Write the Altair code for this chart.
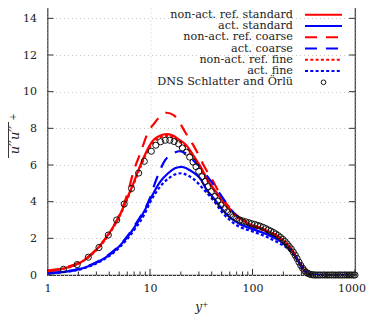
import altair as alt
import pandas as pd

# ---------------- data ----------------
x_ticks = [1, 10, 100, 1000]
x_minor = [2, 3, 4, 5, 6, 7, 8, 9, 20, 30, 40, 50, 60, 70, 80, 90, 200, 300, 400, 500, 600, 700, 800, 900]
y_ticks = [0, 2, 4, 6, 8, 10, 12, 14]

legend_names = ["non-act. ref. standard", "act. standard", "non-act. ref. coarse",
                "act. coarse", "non-act. ref. fine", "act. fine", "DNS Schlatter and Örlü"]

rs_x = [1, 1.5, 2, 2.5, 3.2, 4, 5, 6, 7, 8, 9, 10, 11, 12.5, 14.5, 16.5, 19, 22.7, 26, 30.6, 36, 44.5, 55, 70, 85, 100, 130, 160, 200, 240, 280, 320, 360, 400, 450, 1000]
rs_y = [0.18, 0.38, 0.62, 0.98, 1.55, 2.28, 3.2, 4.2, 5.1, 5.95, 6.6, 7.1, 7.4, 7.6, 7.68, 7.62, 7.4, 7.07, 6.6, 5.98, 5.25, 4.5, 3.85, 3.25, 2.92, 2.7, 2.48, 2.25, 1.88, 1.38, 0.78, 0.25, 0.05, 0.01, 0, 0]

rf_x = rs_x
rf_y = [0.18, 0.37, 0.61, 0.96, 1.52, 2.24, 3.15, 4.13, 5.02, 5.85, 6.5, 6.98, 7.28, 7.5, 7.58, 7.52, 7.3, 6.97, 6.5, 5.9, 5.18, 4.43, 3.78, 3.18, 2.86, 2.65, 2.43, 2.2, 1.84, 1.35, 0.76, 0.24, 0.05, 0.01, 0, 0]

rc_x = [1, 1.5, 2, 2.5, 3.2, 4, 5, 6, 7, 8, 9.6, 11.1, 12.5, 14.5, 17, 19.5, 22, 26, 29.5, 34, 40, 52, 64, 75, 90, 100, 130, 160, 200, 240, 280, 320, 360, 400, 450, 1000]
rc_y = [0.25, 0.42, 0.66, 1.0, 1.58, 2.3, 3.25, 4.4, 5.75, 6.6, 7.8, 8.3, 8.65, 8.85, 8.72, 8.3, 7.8, 7.15, 6.6, 5.9, 5.25, 4.1, 3.5, 3.1, 2.85, 2.74, 2.5, 2.26, 1.9, 1.4, 0.8, 0.26, 0.05, 0.01, 0, 0]

bs_x = [1, 1.5, 2, 2.5, 3.13, 4.2, 5.7, 7.1, 8.9, 10, 12.5, 15, 17.5, 20.3, 23, 26.4, 30.6, 36, 41, 50, 60, 75, 100, 130, 160, 200, 240, 280, 320, 360, 400, 450, 1000]
bs_y = [0.09, 0.18, 0.31, 0.48, 0.72, 1.18, 1.9, 2.63, 3.53, 4.1, 5.07, 5.55, 5.82, 5.9, 5.8, 5.6, 5.3, 4.62, 4.25, 3.62, 3.15, 2.78, 2.5, 2.28, 2.05, 1.72, 1.3, 0.75, 0.25, 0.05, 0.01, 0, 0]

bc_x = [1, 1.5, 2, 2.5, 3.13, 4.2, 5.7, 7.1, 8.9, 10, 11, 12.5, 14, 16.5, 19.5, 22, 24, 27, 30.6, 36, 44, 52, 62, 75, 100, 130, 160, 200, 240, 280, 320, 360, 400, 450, 1000]
bc_y = [0.1, 0.19, 0.33, 0.5, 0.75, 1.22, 1.95, 2.7, 3.6, 4.2, 4.9, 5.7, 6.25, 6.6, 6.75, 6.65, 6.5, 6.2, 5.9, 5.4, 4.75, 4.15, 3.55, 3.05, 2.58, 2.32, 2.1, 1.76, 1.32, 0.76, 0.25, 0.05, 0.01, 0, 0]

bf_x = [1, 1.5, 2, 2.5, 3.13, 4.2, 5.7, 7.1, 8.9, 10, 12.5, 15, 17.5, 20.3, 23, 26.4, 33, 44.5, 50, 60, 75, 100, 137, 184, 220, 260, 300, 340, 400, 450, 1000]
bf_y = [0.08, 0.17, 0.28, 0.45, 0.68, 1.12, 1.82, 2.5, 3.35, 3.95, 4.8, 5.25, 5.48, 5.55, 5.45, 5.25, 4.7, 3.85, 3.45, 3.0, 2.62, 2.38, 2.08, 1.72, 1.45, 1.0, 0.45, 0.12, 0.01, 0, 0]

dns_x = [1.43, 1.95, 2.5, 3.18, 3.92, 4.73, 5.6, 6.6, 7.75, 8.8, 10.3, 11.4, 12.7, 14.1, 15.6, 17.2, 19.0, 20.7,
         22.7, 24.4, 26.3, 28.1, 29.9, 32.1, 34.4, 36.9, 39.7, 42.7, 45.9, 49.3, 53, 57, 61, 65, 70, 75, 80, 86,
         92, 98, 105, 112, 119, 127, 135, 143, 151, 160, 169, 178, 188, 198, 208, 218, 228, 239, 250, 261, 272,
         284, 296, 308, 320, 333, 346, 360, 374, 388, 403, 420, 440, 460, 485, 510, 535, 560, 590, 620, 650,
         685, 720, 755, 795, 835, 875, 920, 965, 1000]
dns_u = [0.31, 0.57, 0.97, 1.5, 2.18, 3.0, 3.87, 4.72, 5.56, 6.2, 6.75, 7.08, 7.27, 7.35, 7.35, 7.28, 7.15, 6.93,
         6.7, 6.43, 6.16, 5.91, 5.66, 5.36, 5.1, 4.82, 4.55, 4.28, 4.04, 3.82, 3.62, 3.44, 3.3, 3.18, 3.08, 3.0,
         2.95, 2.9, 2.85, 2.8, 2.76, 2.71, 2.66, 2.6, 2.53, 2.46, 2.39, 2.32, 2.24, 2.15, 2.05, 1.94, 1.82, 1.69,
         1.55, 1.42, 1.25, 1.08, 0.9, 0.7, 0.52, 0.37, 0.25, 0.15, 0.09, 0.05, 0.02, 0.01, 0, 0, 0, 0, 0, 0, 0,
         0, 0, 0, 0, 0, 0, 0, 0, 0, 0, 0, 0, 0]

# ---------------- style ----------------
W, H = 307.5, 275
RED, BLUE = "#ff0000", "#0000ff"
SOLID, COARSE, FINE = None, [12, 9], [3, 2.3]
FONT = "DejaVu Serif"
INK = "#222222"

xscale = alt.Scale(type="log", domain=[1, 1000])
yscale = alt.Scale(domain=[0, 15], nice=False, zero=False)

XAX = alt.Axis(
    values=x_ticks, format="d", ticks=False, domain=False, grid=True,
    gridDash=[1, 3], gridColor="#c8c8c8", labelFont=FONT, labelFontSize=11,
    labelColor=INK, labelPadding=7, labelOverlap=False, labelFlush=False,
    labelOffset={"expr": "datum.value >= 1000 ? -3.5 : 0"},
    title="y⁺", titleFont=FONT,
    titleFontStyle="italic", titleFontWeight="normal", titleFontSize=12,
    titleColor=INK, titlePadding=8)
YAX = alt.Axis(
    values=y_ticks, tickCount=8, ticks=False, domain=False, grid=True, gridDash=[1, 3],
    gridColor="#c8c8c8", labelFont=FONT, labelFontSize=11, labelColor=INK,
    labelPadding=11, labelOverlap=False, labelFlush=False, title=None)
X = alt.X("yp:Q", scale=xscale, axis=XAX)
Y = alt.Y("uu:Q", scale=yscale, axis=YAX)


def line(xs, ys, color, dash):
    df = pd.DataFrame({"yp": xs, "uu": ys})
    kw = dict(color=color, strokeWidth=2.2, interpolate="monotone", clip=True)
    if dash:
        kw["strokeDash"] = dash
    return alt.Chart(df).mark_line(**kw).encode(x=X, y=Y)


layers = [
    line(rs_x, rs_y, RED, SOLID),
    line(bs_x, bs_y, BLUE, SOLID),
    line(rc_x, rc_y, RED, COARSE),
    line(bc_x, bc_y, BLUE, COARSE),
    line(rf_x, rf_y, RED, FINE),
    line(bf_x, bf_y, BLUE, FINE),
    alt.Chart(pd.DataFrame({"yp": dns_x, "uu": dns_u})).mark_point(
        shape="circle", filled=False, size=38, stroke="#111111", strokeWidth=1, opacity=1
    ).encode(x=X, y=Y),
]

# inward ticks (gnuplot style, mirrored)
major_x = pd.DataFrame({"yp": x_ticks})
minor_x = pd.DataFrame({"yp": x_minor})
ticks_y = pd.DataFrame({"uu": y_ticks})
TK = dict(color="#333333", strokeWidth=1)
layers += [
    alt.Chart(major_x).mark_rule(**TK).encode(x=X, y=alt.value(H), y2=alt.value(H - 6)),
    alt.Chart(major_x).mark_rule(**TK).encode(x=X, y=alt.value(0), y2=alt.value(6)),
    alt.Chart(minor_x).mark_rule(**TK).encode(x=X, y=alt.value(H), y2=alt.value(H - 3.5)),
    alt.Chart(minor_x).mark_rule(**TK).encode(x=X, y=alt.value(0), y2=alt.value(3.5)),
    alt.Chart(ticks_y).mark_rule(**TK).encode(y=Y, x=alt.value(0), x2=alt.value(6)),
    alt.Chart(ticks_y).mark_rule(**TK).encode(y=Y, x=alt.value(W), x2=alt.value(W - 6)),
]

# y-axis title: overline u''u''^+
one = pd.DataFrame({"a": [0]})
layers += [
    alt.Chart(one).mark_text(text="u′′u′′", angle=270, font=FONT, fontStyle="italic",
                             fontSize=13, color=INK, align="center", baseline="alphabetic").encode(
        x=alt.value(-28.5), y=alt.value(140)),
    alt.Chart(one).mark_text(text="+", angle=270, font=FONT, fontSize=9, color=INK,
                             align="center", baseline="middle").encode(
        x=alt.value(-34.5), y=alt.value(117)),
    alt.Chart(one).mark_rule(color=INK, strokeWidth=0.9).encode(
        x=alt.value(-39), y=alt.value(122), y2=alt.value(158)),
]

# legend (text right-aligned, sample on the right)
leg_colors = [RED, BLUE, RED, BLUE, RED, BLUE, None]
leg_dash = [SOLID, SOLID, COARSE, COARSE, FINE, FINE, None]
for i, name in enumerate(legend_names):
    py = 14.8 + 11.25 * i
    layers.append(alt.Chart(one).mark_text(
        text=name, font=FONT, fontSize=11.2, color=INK, align="right", baseline="middle"
    ).encode(x=alt.value(245.5), y=alt.value(py)))
    if leg_colors[i] is not None:
        kw = dict(color=leg_colors[i], strokeWidth=2)
        if leg_dash[i]:
            kw["strokeDash"] = leg_dash[i]
        layers.append(alt.Chart(one).mark_rule(**kw).encode(
            x=alt.value(257.5), x2=alt.value(294.5), y=alt.value(py)))
    else:
        layers.append(alt.Chart(one).mark_point(
            shape="circle", filled=False, size=22, stroke="#111111", strokeWidth=1, opacity=1
        ).encode(x=alt.value(276), y=alt.value(py)))

chart = alt.layer(*layers).properties(
    width=W, height=H,
    autosize=alt.AutoSizeParams(type="none"),
    padding={"left": 39.5, "top": -8, "right": 11, "bottom": 40},
).configure_view(stroke="#333333", strokeWidth=1.2)

chart.save("out.html", embed_options={"renderer": "svg", "actions": False})
